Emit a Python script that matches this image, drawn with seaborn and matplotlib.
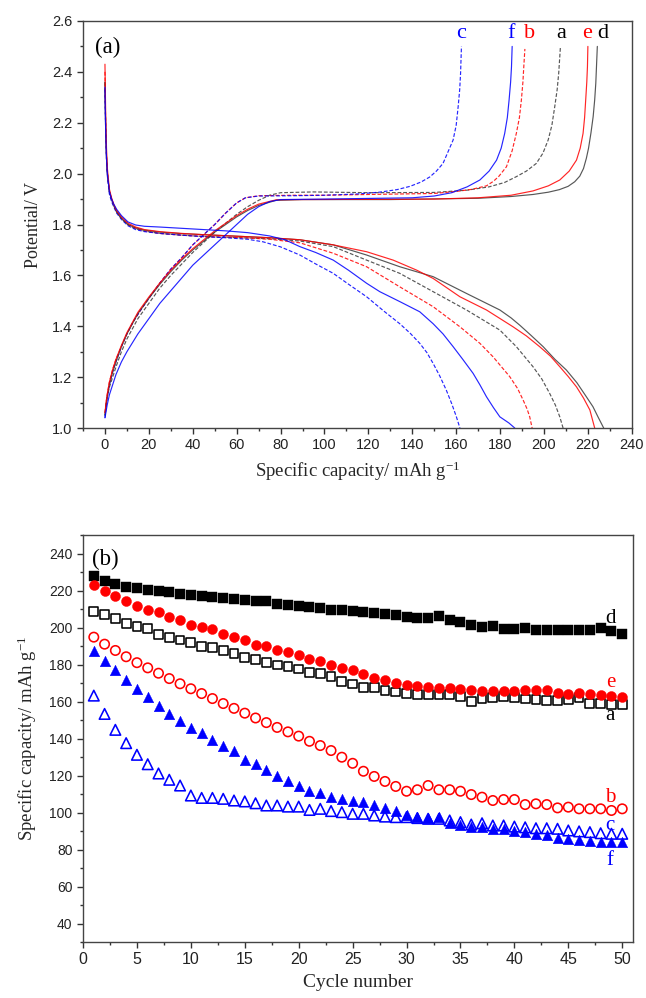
import matplotlib
matplotlib.use("Agg")
import matplotlib.pyplot as plt
import seaborn as sns
from matplotlib.ticker import MultipleLocator, FormatStrFormatter

sns.set_style("ticks")
plt.rcParams["font.family"] = ["Liberation Sans", "DejaVu Sans"]
plt.rcParams["mathtext.fontset"] = "custom"
plt.rcParams["mathtext.rm"] = "Liberation Serif"
plt.rcParams["mathtext.it"] = "Liberation Serif:italic"

SERIF = ["Liberation Serif", "DejaVu Serif"]
BLUE, RED, BLACK, GREY = "#0000ff", "#ff0000", "#000000", "#3a3a3a"

# ---------------- (a) charge / discharge profiles ----------------
# discharge branches (capacity mAh/g, potential V)
dis_a_q = [0, 0.3, 0.7, 1.1, 2, 3, 4, 5.3, 7.5, 10.5, 14, 18, 25, 35, 45, 55, 65, 75, 88.8, 104, 119.2, 134.3, 149.5, 164.7, 179.9, 187.4, 195, 199, 202.6, 205.2, 207.2, 208.7]
dis_a_v = [2.36, 2.18, 2.06, 2.0, 1.93, 1.9, 1.875, 1.85, 1.822, 1.798, 1.783, 1.774, 1.765, 1.758, 1.753, 1.75, 1.747, 1.744, 1.735, 1.713, 1.66, 1.608, 1.536, 1.464, 1.385, 1.32, 1.241, 1.193, 1.136, 1.09, 1.044, 1.0]

dis_b_q = [0, 0.3, 0.7, 1.1, 2, 3, 4, 5.3, 7.5, 10.5, 14, 18, 25, 35, 45, 55, 65, 75, 88.8, 104, 119.2, 134.3, 149.5, 161.7, 170.8, 176.8, 184.4, 188, 190.5, 192.3, 193.5, 194.6]
dis_b_v = [2.40, 2.2, 2.07, 2.0, 1.93, 1.9, 1.875, 1.85, 1.825, 1.8, 1.785, 1.775, 1.765, 1.758, 1.753, 1.75, 1.747, 1.742, 1.728, 1.687, 1.634, 1.555, 1.477, 1.398, 1.333, 1.28, 1.202, 1.155, 1.11, 1.075, 1.044, 1.0]

dis_c_q = [0, 0.3, 0.7, 1.1, 2, 3, 4, 5.3, 7.5, 10.5, 14, 18, 25, 35, 45, 55, 65, 72, 80, 88.8, 96, 104, 111, 119.2, 127, 134.3, 139, 143.4, 146.7, 149.5, 152.5, 155.5, 158, 160.1, 161.7]
dis_c_v = [2.33, 2.18, 2.06, 1.99, 1.92, 1.89, 1.87, 1.845, 1.82, 1.795, 1.78, 1.772, 1.765, 1.758, 1.752, 1.748, 1.742, 1.732, 1.712, 1.68, 1.645, 1.608, 1.565, 1.516, 1.46, 1.41, 1.373, 1.333, 1.296, 1.254, 1.205, 1.149, 1.095, 1.044, 1.0]

dis_d_q = [0, 0.3, 0.7, 1.1, 2, 3, 4, 5.3, 7.5, 10.5, 14, 18, 25, 35, 45, 55, 65, 75, 88.8, 104, 119.2, 134.3, 149.5, 164.7, 179.9, 185, 189, 194, 199.6, 205, 210.2, 215, 219.3, 222.3, 224.6, 227.2]
dis_d_v = [2.36, 2.18, 2.06, 2.0, 1.93, 1.9, 1.875, 1.85, 1.825, 1.8, 1.787, 1.778, 1.77, 1.764, 1.76, 1.756, 1.752, 1.748, 1.74, 1.72, 1.68, 1.634, 1.595, 1.529, 1.464, 1.433, 1.404, 1.365, 1.32, 1.27, 1.228, 1.178, 1.123, 1.084, 1.044, 1.0]

dis_e_q = [0, 0.3, 0.7, 1.1, 2, 3, 4, 5.3, 7.5, 10.5, 14, 18, 25, 35, 45, 55, 65, 75, 88.8, 104, 119.2, 131.3, 141.9, 149.5, 161.7, 173.8, 185.9, 192, 198, 203, 207.2, 211, 214.8, 218, 220.9, 223.1]
dis_e_v = [2.43, 2.25, 2.1, 2.02, 1.94, 1.905, 1.88, 1.855, 1.83, 1.805, 1.79, 1.78, 1.772, 1.765, 1.76, 1.756, 1.752, 1.748, 1.74, 1.72, 1.693, 1.66, 1.621, 1.588, 1.516, 1.464, 1.398, 1.362, 1.32, 1.282, 1.241, 1.203, 1.162, 1.118, 1.071, 1.0]

dis_f_q = [0, 0.3, 0.7, 1.1, 2, 3, 4, 5.3, 7.5, 10.5, 14, 18, 25, 35, 45, 55, 65, 75, 82, 88.8, 96, 104, 111, 119.2, 125.2, 134.3, 143.4, 149.5, 154, 158.6, 163, 167.7, 170.8, 173.8, 177, 179.9, 184, 186.7]
dis_f_v = [2.34, 2.18, 2.06, 2.0, 1.93, 1.9, 1.88, 1.86, 1.835, 1.81, 1.798, 1.793, 1.79, 1.785, 1.78, 1.775, 1.768, 1.755, 1.74, 1.713, 1.69, 1.66, 1.62, 1.569, 1.536, 1.497, 1.457, 1.41, 1.37, 1.32, 1.27, 1.215, 1.17, 1.123, 1.08, 1.044, 1.02, 1.0]

# charge branches
chg_a_q = [0, 0.5, 1, 2, 3.5, 5, 7.5, 10, 15, 20, 25, 30, 35, 40, 45, 50, 55, 60, 65, 70, 75, 80, 95, 120, 150, 165, 175, 182, 187.4, 192, 196.5, 199.5, 201.9, 203.6, 204.9, 206, 206.7, 207.5]
chg_a_v = [1.05, 1.09, 1.12, 1.16, 1.2, 1.24, 1.3, 1.35, 1.43, 1.49, 1.55, 1.6, 1.645, 1.69, 1.73, 1.77, 1.805, 1.84, 1.87, 1.895, 1.915, 1.925, 1.928, 1.925, 1.926, 1.935, 1.948, 1.965, 1.988, 2.01, 2.04, 2.08, 2.132, 2.19, 2.263, 2.33, 2.394, 2.5]

chg_b_q = [0, 0.5, 1, 2, 3.5, 5, 7.5, 10, 13, 16, 20, 25, 30, 35, 40, 45, 50, 55, 60, 64, 70, 85, 100, 120, 150, 160, 167, 173.8, 177, 179.5, 182.9, 185.5, 187.4, 188.8, 189.7, 190.4, 190.8, 191.3]
chg_b_v = [1.06, 1.1, 1.13, 1.18, 1.23, 1.27, 1.32, 1.37, 1.42, 1.46, 1.51, 1.57, 1.625, 1.67, 1.72, 1.76, 1.8, 1.845, 1.885, 1.905, 1.913, 1.915, 1.915, 1.918, 1.922, 1.93, 1.938, 1.952, 1.97, 1.99, 2.027, 2.09, 2.158, 2.22, 2.289, 2.36, 2.42, 2.49]

chg_c_q = [0, 0.5, 1, 2, 3.5, 5, 7.5, 10, 13, 16, 20, 25, 30, 35, 40, 45, 50, 55, 60, 64, 70, 85, 100, 115, 125, 133, 139, 144, 148, 151, 154, 156.5, 158.6, 160, 160.9, 161.6, 162, 162.4]
chg_c_v = [1.04, 1.08, 1.12, 1.17, 1.22, 1.26, 1.32, 1.37, 1.42, 1.46, 1.51, 1.57, 1.625, 1.67, 1.72, 1.76, 1.8, 1.845, 1.885, 1.905, 1.912, 1.913, 1.915, 1.92, 1.927, 1.937, 1.95, 1.967, 1.987, 2.01, 2.04, 2.09, 2.132, 2.19, 2.263, 2.33, 2.394, 2.5]

chg_d_q = [0, 0.5, 1, 2, 3.5, 5, 7.5, 10, 15, 20, 25, 30, 35, 40, 45, 50, 55, 60, 65, 70, 78, 90, 130, 170, 185, 195, 202, 207, 211, 214, 216.3, 218, 219.3, 220.3, 221.4, 222.4, 223.1, 223.6, 224.3]
chg_d_v = [1.05, 1.09, 1.12, 1.17, 1.22, 1.26, 1.32, 1.37, 1.45, 1.51, 1.565, 1.615, 1.66, 1.7, 1.735, 1.77, 1.8, 1.83, 1.855, 1.875, 1.895, 1.898, 1.898, 1.903, 1.91, 1.918, 1.927, 1.937, 1.95, 1.968, 1.99, 2.02, 2.06, 2.1, 2.16, 2.224, 2.29, 2.355, 2.5]

chg_e_q = [0, 0.5, 1, 2, 3.5, 5, 7.5, 10, 15, 20, 25, 30, 35, 40, 45, 50, 55, 60, 65, 70, 78, 90, 150, 170, 185, 195, 202, 207.2, 211.5, 214.8, 216.5, 217.8, 218.5, 219, 219.5, 219.8, 220]
chg_e_v = [1.06, 1.1, 1.13, 1.18, 1.23, 1.27, 1.325, 1.375, 1.455, 1.515, 1.57, 1.62, 1.665, 1.705, 1.74, 1.775, 1.805, 1.835, 1.86, 1.88, 1.897, 1.898, 1.9, 1.905, 1.915, 1.932, 1.952, 1.975, 2.01, 2.053, 2.1, 2.158, 2.22, 2.289, 2.36, 2.42, 2.5]

chg_f_q = [0, 1, 2, 3.5, 5, 7.5, 10, 15, 20, 25, 30, 35, 40, 45, 50, 55, 60, 65, 70, 75, 80, 100, 140, 150, 158, 165, 170.8, 175, 178.4, 180.5, 182.1, 183.3, 184.1, 184.8, 185.2, 185.5]
chg_f_v = [1.04, 1.09, 1.13, 1.17, 1.21, 1.26, 1.3, 1.37, 1.43, 1.49, 1.54, 1.59, 1.64, 1.68, 1.72, 1.76, 1.8, 1.84, 1.87, 1.89, 1.898, 1.9, 1.905, 1.912, 1.925, 1.948, 1.975, 2.01, 2.053, 2.1, 2.158, 2.22, 2.289, 2.36, 2.42, 2.5]

curve_labels = ["c", "f", "b", "a", "e", "d"]
curve_label_q = [162.4, 185.2, 193.5, 207.7, 219.5, 226.8]
curve_label_colors = [BLUE, BLUE, RED, BLACK, RED, BLACK]

# ---------------- (b) cycling ----------------
cycles = list(range(1, 51))
cap_d = [228.1, 225.0, 223.6, 221.8, 221.4, 220.5, 219.6, 219.1, 218.2, 217.7,
         216.9, 216.7, 216.0, 215.5, 215.1, 214.6, 214.6, 212.8, 212.2, 211.4,
         211.0, 210.4, 209.7, 209.6, 208.8, 208.3, 207.7, 207.4, 206.5, 205.6,
         205.2, 205.2, 206.1, 203.8, 202.9, 201.5, 200.5, 200.7, 199.3, 199.3,
         199.8, 198.8, 198.8, 198.8, 198.8, 198.6, 198.4, 199.8, 198.0, 196.6]
cap_e = [223.1, 219.5, 217.3, 214.4, 211.7, 209.5, 208.3, 205.6, 204.3, 201.6,
         200.2, 199.3, 196.6, 194.8, 193.3, 190.8, 190.1, 188.1, 186.6, 184.9,
         183.1, 181.8, 180.0, 178.2, 176.8, 175.0, 172.8, 171.4, 169.9, 169.0,
         168.3, 167.7, 167.4, 167.2, 166.5, 166.0, 165.6, 165.6, 165.8, 165.6,
         166.0, 166.2, 166.2, 164.7, 164.2, 164.7, 164.2, 163.6, 163.1, 162.7]
cap_a = [208.8, 207.0, 204.7, 202.0, 200.7, 199.6, 196.2, 194.8, 193.3, 191.7,
         189.7, 189.0, 187.6, 185.8, 183.9, 182.9, 181.3, 179.8, 178.9, 177.6,
         175.8, 175.0, 173.5, 171.0, 169.5, 167.7, 167.4, 166.0, 165.1, 164.5,
         163.8, 163.6, 163.6, 163.6, 162.9, 160.2, 161.8, 162.0, 162.7, 162.3,
         161.4, 160.9, 160.5, 160.5, 160.9, 162.0, 159.1, 158.8, 158.4, 158.2]
cap_b = [194.8, 191.0, 187.6, 184.2, 181.0, 178.2, 175.3, 172.4, 169.6, 166.9,
         164.3, 161.6, 158.9, 156.3, 153.7, 151.1, 148.6, 146.0, 143.6, 141.3,
         138.5, 136.2, 133.5, 129.9, 126.6, 122.3, 119.5, 116.8, 114.1, 111.5,
         112.3, 114.6, 112.3, 112.3, 111.5, 109.7, 108.3, 106.5, 107.0, 107.0,
         104.3, 104.7, 104.3, 102.5, 102.9, 102.0, 102.0, 102.0, 101.1, 102.0]
cap_f = [187.2, 181.8, 176.8, 171.4, 166.8, 162.3, 157.8, 153.3, 149.7, 145.8,
         143.1, 139.3, 136.2, 133.1, 128.5, 126.3, 123.0, 119.5, 116.9, 114.1,
         111.9, 110.5, 108.3, 107.2, 106.2, 105.5, 104.0, 102.3, 101.0, 98.9,
         97.5, 97.3, 97.5, 94.5, 93.2, 92.1, 92.0, 91.2, 91.0, 90.0,
         89.6, 88.5, 87.6, 86.3, 85.8, 85.2, 84.8, 84.2, 84.0, 84.2]
cap_c = [163.2, 153.3, 144.7, 137.5, 131.2, 126.1, 121.1, 117.7, 114.6, 109.2,
         107.9, 107.9, 107.4, 106.5, 106.0, 105.0, 103.8, 103.8, 103.2, 103.2,
         101.4, 102.0, 100.8, 100.2, 99.3, 99.3, 98.4, 97.8, 97.5, 97.5,
         97.0, 96.6, 96.6, 95.7, 94.8, 93.5, 94.2, 93.0, 93.0, 92.4,
         92.0, 91.5, 91.5, 91.2, 90.3, 89.8, 89.4, 88.8, 88.5, 88.5]

series_labels = ["d", "e", "a", "b", "c", "f"]
series_label_x = [48.9, 48.9, 48.9, 48.9, 48.9, 48.9]
series_label_y = [204.7, 170.4, 152.4, 108.3, 93.0, 74.0]
series_label_colors = [BLACK, RED, BLACK, RED, BLUE, BLUE]

fig = plt.figure(figsize=(6.46, 9.98), dpi=100)
ax1 = fig.add_axes([0.1285, 0.5711, 0.8495, 0.4079])
ax2 = fig.add_axes([0.1285, 0.0561, 0.8514, 0.4078])

DASH = (0, (3.2, 1.6))
profiles = [
    (dis_a_q, dis_a_v, chg_a_q, chg_a_v, GREY, DASH),
    (dis_b_q, dis_b_v, chg_b_q, chg_b_v, RED, DASH),
    (dis_c_q, dis_c_v, chg_c_q, chg_c_v, BLUE, DASH),
    (dis_d_q, dis_d_v, chg_d_q, chg_d_v, GREY, "-"),
    (dis_e_q, dis_e_v, chg_e_q, chg_e_v, RED, "-"),
    (dis_f_q, dis_f_v, chg_f_q, chg_f_v, BLUE, "-"),
]
for dq, dv, cq, cv, col, ls in profiles:
    for q, v in ((dq, dv), (cq, cv)):
        sns.lineplot(x=q, y=v, sort=False, estimator=None, color=col,
                     linewidth=0.85, linestyle=ls, alpha=0.85, ax=ax1)

ax1.set_xlim(-10, 240)
ax1.set_ylim(1.0, 2.6)
ax1.xaxis.set_major_locator(MultipleLocator(20))
ax1.xaxis.set_minor_locator(MultipleLocator(10))
ax1.yaxis.set_major_locator(MultipleLocator(0.2))
ax1.yaxis.set_minor_locator(MultipleLocator(0.1))
ax1.yaxis.set_major_formatter(FormatStrFormatter("%.1f"))
ax1.set_xlabel(r"Specific capacity/ mAh g$^{\mathregular{-1}}$", fontsize=13.5,
               family=SERIF, labelpad=5)
ax1.set_ylabel("Potential/ V", fontsize=13, family=SERIF, labelpad=7)
ax1.text(-4.5, 2.475, "(a)", fontsize=16.5, family=SERIF, color=BLACK)
for lab, q, col in zip(curve_labels, curve_label_q, curve_label_colors):
    ax1.text(q, 2.55, lab, fontsize=16, family=SERIF, color=col,
             ha="center", va="center")

# cycling performance
scatter_specs = [
    (cap_a, "s", BLACK, False, 40),
    (cap_b, "o", RED, False, 46),
    (cap_c, "^", BLUE, False, 58),
    (cap_d, "s", BLACK, True, 44),
    (cap_e, "o", RED, True, 52),
    (cap_f, "^", BLUE, True, 58),
]
for vals, mk, col, filled, size in scatter_specs:
    sns.scatterplot(x=cycles, y=vals, marker=mk, s=size, color=col, ax=ax2,
                    zorder=3)
    pc = ax2.collections[-1]
    if filled:
        pc.set_facecolor(col)
        pc.set_edgecolor(col)
        pc.set_linewidth(0.3)
    else:
        pc.set_facecolor("none")
        pc.set_edgecolor(col)
        pc.set_linewidth(1.15)

ax2.set_xlim(0, 51)
ax2.set_ylim(30, 250)
ax2.xaxis.set_major_locator(MultipleLocator(5))
ax2.xaxis.set_minor_locator(MultipleLocator(2.5))
ax2.yaxis.set_minor_locator(MultipleLocator(10))
ax2.set_yticks(range(40, 241, 20))
ax2.set_xlabel("Cycle number", fontsize=14, family=SERIF, labelpad=5)
ax2.set_ylabel(r"Specific capacity/ mAh g$^{\mathregular{-1}}$", fontsize=13.5,
               family=SERIF, labelpad=7)
ax2.text(0.8, 237, "(b)", fontsize=16.5, family=SERIF, color=BLACK,
         va="center")
for lab, x, y, col in zip(series_labels, series_label_x, series_label_y,
                          series_label_colors):
    ax2.text(x, y, lab, fontsize=15, family=SERIF, color=col,
             ha="center", va="center")

for ax in (ax1, ax2):
    for sp in ax.spines.values():
        sp.set_visible(True)
        sp.set_color("#444444")
        sp.set_linewidth(1.0)
    ax.tick_params(which="major", direction="out", length=4, width=1.0,
                   colors="#333333", labelcolor="#222222",
                   top=False, right=False)
    ax.tick_params(which="minor", direction="out", length=2.5, width=1.0,
                   colors="#333333", top=False, right=False)
ax1.tick_params(axis="both", which="major", labelsize=10.5)
ax2.tick_params(axis="x", which="major", labelsize=11.5)
ax2.tick_params(axis="y", which="major", labelsize=10)

fig.savefig("out.png", dpi=100, facecolor="white")
